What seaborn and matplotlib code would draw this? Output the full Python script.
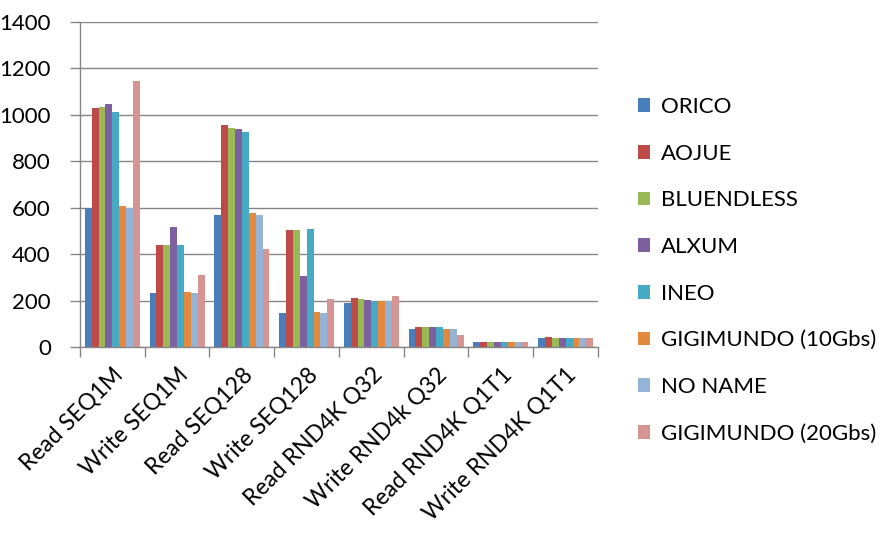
import matplotlib
matplotlib.use("Agg")
import matplotlib.pyplot as plt
import seaborn as sns
import pandas as pd
import numpy as np
from matplotlib.patches import Patch

categories = ["Read SEQ1M", "Write SEQ1M", "Read SEQ128", "Write SEQ128",
              "Read RND4K Q32", "Write RND4k Q32", "Read RND4K Q1T1", "Write RND4K Q1T1"]
series = ["ORICO", "AOJUE", "BLUENDLESS", "ALXUM", "INEO",
          "GIGIMUNDO (10Gbs)", "NO NAME", "GIGIMUNDO (20Gbs)"]

orico      = [600, 233, 569, 146, 190, 78, 22, 39]
aojue      = [1028, 439, 955, 504, 211, 86, 22, 43]
bluendless = [1032, 439, 945, 504, 207, 86, 22, 40]
alxum      = [1045, 517, 940, 306, 202, 86, 22, 40]
ineo       = [1012, 439, 925, 508, 197, 86, 22, 40]
gigi10     = [607, 237, 577, 151, 197, 78, 22, 40]
noname     = [600, 233, 569, 146, 197, 78, 22, 40]
gigi20     = [1146, 310, 422, 207, 220, 52, 22, 40]

colors = ["#4A7EBB", "#BE4B48", "#98B954", "#7D60A0", "#46AAC5",
          "#E3893D", "#95B3D7", "#D69593"]

values = [orico, aojue, bluendless, alxum, ineo, gigi10, noname, gigi20]
rows = []
for s, vals in zip(series, values):
    for c, v in zip(categories, vals):
        rows.append({"cat": c, "series": s, "value": v})
df = pd.DataFrame(rows)

sns.set_theme(style="white")
plt.rcParams["font.family"] = ["Lato", "DejaVu Sans"]

fig = plt.figure(figsize=(8.95, 5.36), dpi=100)
ax = fig.add_axes([80/895, 1-347/536, (598-80)/895, (347-22)/536])

sns.barplot(data=df, x="cat", y="value", hue="series", order=categories,
            hue_order=series, palette=colors, width=0.85, gap=0,
            saturation=1, ax=ax, legend=False, linewidth=0)

ax.set_ylim(0, 1400)
ax.set_xlim(-0.5, len(categories) - 0.5)
ax.set_yticks(np.arange(0, 1401, 200))
ax.yaxis.grid(True, color="#868686", linewidth=1)
ax.set_axisbelow(True)
ax.set_xlabel("")
ax.set_ylabel("")

for sp in ["top", "right"]:
    ax.spines[sp].set_visible(False)
for sp in ["left", "bottom"]:
    ax.spines[sp].set_color("#868686")
    ax.spines[sp].set_linewidth(1)

ax.tick_params(axis="y", length=7, width=1, color="#868686", labelsize=16,
               labelcolor="black", pad=14, left=True, direction="out")
ax.set_xticks(range(len(categories)))
ax.set_xticklabels(categories, rotation=45, ha="right", rotation_mode="anchor",
                   fontsize=16.5, color="black")
ax.tick_params(axis="x", which="major", length=0, pad=12)
ax.set_xticks(np.arange(-0.5, len(categories), 1.0), minor=True)
ax.tick_params(axis="x", which="minor", length=7, width=1, color="#868686",
               bottom=True, direction="out")

handles = [Patch(facecolor=c, edgecolor="none") for c in colors]
fig.legend(handles, series, loc="upper left", bbox_to_anchor=(638/895, 1-97/536),
           frameon=False, fontsize=16, handlelength=0.55, handleheight=0.55,
           handletextpad=0.5, labelspacing=1.2, borderaxespad=0, borderpad=0,
           labelcolor="black")

fig.savefig("out.png", dpi=100)
